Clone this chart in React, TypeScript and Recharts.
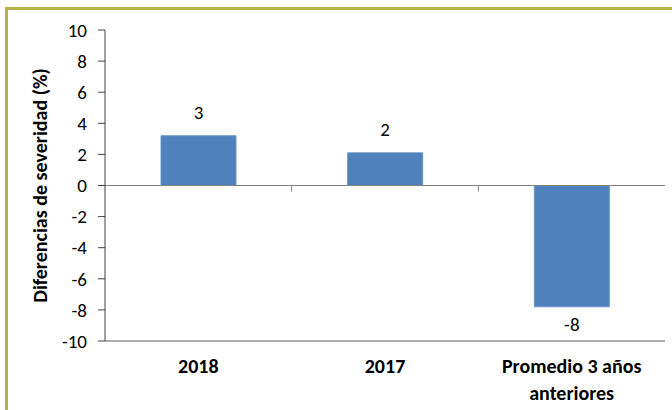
import * as React from 'react';
import {BarChart, Bar, XAxis, YAxis, ReferenceLine, LabelList} from 'recharts';

const categories = ['2018', '2017', 'Promedio 3 años anteriores'];
const tickLines = [['2018'], ['2017'], ['Promedio 3 años', 'anteriores']];
const severityDiff = [3.2, 2.1, -7.8];
const yTicks = [-10, -8, -6, -4, -2, 0, 2, 4, 6, 8, 10];

const data = categories.map((name, i) => ({name, value: severityDiff[i]}));

const FONT = "Carlito, Calibri, 'Open Sans', sans-serif";

function CategoryTick(props: any) {
    const {x, y, index} = props;
    const lines = tickLines[index] || [];
    return (
        <text x={x} y={y} textAnchor="middle" fontFamily={FONT} fontSize={20} fontWeight="bold" fill="#000">
            {lines.map((l, i) => (
                <tspan key={i} x={x} dy={i === 0 ? 24 : 27}>{l}</tspan>
            ))}
        </text>
    );
}

function ValueLabel(props: any) {
    const {x, y, width, height, value} = props;
    const top = Math.min(y, y + height);
    const bottom = Math.max(y, y + height);
    const ty = value >= 0 ? top - 21 : bottom + 20;
    return (
        <text x={x + width / 2} y={ty} textAnchor="middle" dominantBaseline="middle"
              fontFamily={FONT} fontSize={19} fill="#000">
            {Math.round(value)}
        </text>
    );
}

function ZeroLine(props: any) {
    const {x1, x2, y1} = props;
    const step = (x2 - x1) / categories.length;
    const marks = [];
    for (let i = 1; i < categories.length; i++) {
        marks.push(<line key={i} x1={x1 + step * i} x2={x1 + step * i} y1={y1} y2={y1 + 6} stroke="#808080" />);
    }
    return (
        <g>
            <line x1={x1} x2={x2} y1={y1} y2={y1} stroke="#808080" />
            {marks}
        </g>
    );
}

function YTitle(props: any) {
    const {viewBox} = props;
    const cy = viewBox.y + viewBox.height / 2;
    return (
        <text x={42} y={cy} transform={`rotate(-90 42 ${cy})`} textAnchor="middle" dominantBaseline="middle"
              fontFamily={FONT} fontSize={20} fontWeight="bold" fill="#000">
            Diferencias de severidad (%)
        </text>
    );
}

export default function App() {
    return (
        <div style={{position: 'absolute', left: 0, top: 0, width: 672, height: 410, background: '#fff', overflow: 'hidden'}}>
            <div style={{position: 'absolute', left: 5, top: 7, width: 700, height: 420,
                borderTop: '3px solid #B5B246', borderLeft: '3px solid #B5B246'}} />
            <div style={{position: 'absolute', left: 0, top: 0}}>
                <BarChart width={672} height={410} data={data} barCategoryGap="30%"
                          margin={{top: 30, right: 7, left: 0, bottom: 0}}>
                    <XAxis dataKey="name" height={69} axisLine={{stroke: '#595959'}} tickLine={false}
                           tick={<CategoryTick />} interval={0} />
                    <XAxis xAxisId="top" dataKey="name" orientation="top" height={0} tick={false}
                           tickLine={false} axisLine={{stroke: '#a6a6a6'}} />
                    <YAxis width={105} domain={[-10, 10]} ticks={yTicks} interval={0} tickSize={7} tickMargin={11}
                           axisLine={{stroke: '#404040'}} tickLine={{stroke: '#404040'}}
                           tick={{fontFamily: FONT, fontSize: 19, fill: '#000'}}
                           label={<YTitle />} />
                    <YAxis yAxisId="right" orientation="right" width={0} domain={[-10, 10]} tick={false}
                           tickLine={false} axisLine={{stroke: '#262626'}} />
                    <ReferenceLine y={0} shape={<ZeroLine />} />
                    <Bar dataKey="value" fill="#4F81BD" stroke="#6a95c8" isAnimationActive={false}>
                        <LabelList dataKey="value" content={<ValueLabel />} />
                    </Bar>
                </BarChart>
            </div>
        </div>
    );
}
